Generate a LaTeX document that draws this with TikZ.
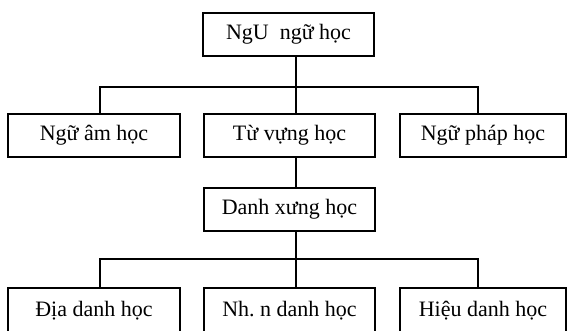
\documentclass[tikz,border=0pt]{standalone}
\usepackage{fontspec}
\setmainfont{Liberation Serif}
\usepackage{tikz}

\begin{document}
\begin{tikzpicture}[x=1pt,y=-1pt]
\tikzset{every node/.style={font=\fontsize{22}{26}\selectfont}}
\tikzset{box/.style={draw,line width=2pt,minimum height=43pt,inner sep=0pt}}
\tikzset{link/.style={line width=2pt}}
\useasboundingbox (0,0) rectangle (569,330);
% boxes
\node[box,minimum width=171pt] (root) at (288.5,34) {NgU~~ngữ học};
\node[box,minimum width=172pt] (amhoc) at (94,135.5) {Ngữ âm học};
\node[box,minimum width=171pt] (tuvung) at (289.5,135.5) {Từ vựng học};
\node[box,minimum width=166pt] (ngphap) at (483,135.5) {Ngữ pháp học};
\node[box,minimum width=171pt] (danhxung) at (289.5,209) {Danh xưng học};
\node[box,minimum width=172pt,minimum height=46pt] (diadanh) at (94,311) {Địa danh học};
\node[box,minimum width=171pt,minimum height=46pt] (nhandanh) at (289.5,311) {Nh.\ n danh học};
\node[box,minimum width=166pt,minimum height=46pt] (hieudanh) at (483,311) {Hiệu danh học};
% joints
\coordinate (midA) at (296,87);
\coordinate (leftA) at (100,87);
\coordinate (rightA) at (478,87);
\coordinate (midB) at (296,259);
\coordinate (leftB) at (100,259);
\coordinate (rightB) at (478,259);
% lines
\draw[link] (root.south -| midA) -- (tuvung.north -| midA);
\draw[link] (amhoc.north -| leftA) -- (leftA) -- (rightA) -- (ngphap.north -| rightA);
\draw[link] (tuvung.south -| midA) -- (danhxung.north -| midA);
\draw[link] (danhxung.south -| midB) -- (nhandanh.north -| midB);
\draw[link] (diadanh.north -| leftB) -- (leftB) -- (rightB) -- (hieudanh.north -| rightB);
\end{tikzpicture}
\end{document}
